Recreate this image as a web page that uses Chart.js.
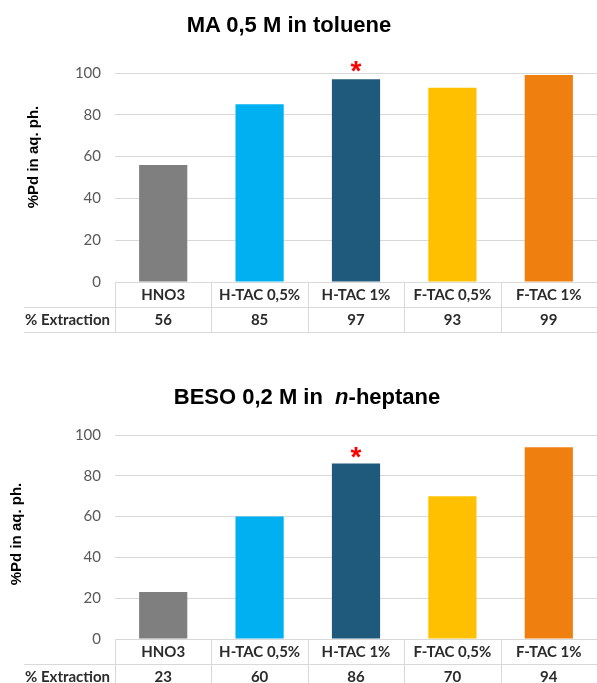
<!DOCTYPE html>
<html>
<head>
<meta charset="utf-8">
<script src="https://cdn.jsdelivr.net/npm/chart.js@4.4.1/dist/chart.umd.min.js"></script>
<style>
  html, body { margin: 0; padding: 0; background: #fff; }
  body { width: 597px; height: 683px; position: relative; overflow: hidden; }
  .box { position: absolute; left: 0; width: 597px; }
  .title {
    position: absolute; white-space: nowrap; transform: translateX(-50%);
    font: bold 22px "Liberation Sans", Arial, sans-serif; color: #000; line-height: 26px;
  }
</style>
</head>
<body>
<div class="box" style="top:0;height:340px"><canvas id="chartMA"></canvas></div>
<div class="box" style="top:340px;height:343px"><canvas id="chartBESO"></canvas></div>
<div class="title" style="left:289px;top:12px">MA 0,5 M in toluene</div>
<div class="title" style="left:307px;top:384px">BESO 0,2 M in&nbsp; <i>n</i>-heptane</div>

<script>
// ---- data ----
const categories = ['HNO3', 'H-TAC 0,5%', 'H-TAC 1%', 'F-TAC 0,5%', 'F-TAC 1%'];
const maValues = [56, 85, 97, 93, 99];
const besoValues = [23, 60, 86, 70, 94];
const yTicks = [0, 20, 40, 60, 80, 100];
const tableLabel = '% Extraction';
const yTitle = '%Pd in aq. ph.';
const starIndex = 2; // H-TAC 1% marked with *

const barColors = ['#7f7f7f', '#00b0f0', '#1f5a7c', '#ffc000', '#ef7f0f'];
const gridColor = '#d9d9d9';
const tableFont = '"Lato", "Open Sans", sans-serif';

// draws the data table under the plot, the red star and the y title
const tablePlugin = {
  id: 'dataTable',
  afterDraw(chart, args, opts) {
    const ctx = chart.ctx;
    const area = chart.chartArea;
    const xs = chart.scales.x;
    const n = categories.length;
    const cw = (area.right - area.left) / n;
    const rowH = 25;
    const top = area.bottom;
    const values = chart.data.datasets[0].data;

    ctx.save();
    // table lines
    ctx.strokeStyle = gridColor;
    ctx.lineWidth = 1;
    ctx.beginPath();
    ctx.moveTo(24, top + rowH + 0.5);
    ctx.lineTo(area.right, top + rowH + 0.5);
    ctx.moveTo(24, top + 2 * rowH + 0.5);
    ctx.lineTo(area.right, top + 2 * rowH + 0.5);
    for (let i = 0; i <= n; i++) {
      const x = Math.round(area.left + i * cw) + 0.5;
      ctx.moveTo(x, top);
      ctx.lineTo(x, top + 2 * rowH);
    }
    ctx.stroke();

    // table text
    ctx.textAlign = 'center';
    ctx.textBaseline = 'middle';
    ctx.fillStyle = '#2b2b2b';
    ctx.font = 'bold 15px ' + tableFont;
    categories.forEach((c, i) => {
      const x = xs.getPixelForValue(i);
      ctx.fillText(c, x, top + rowH / 2 + 1);
      ctx.fillText(String(values[i]), x, top + rowH * 1.5 + 1);
    });
    ctx.textAlign = 'left';
    ctx.fillText(tableLabel, 25, top + rowH * 1.5 + 1);

    // red asterisk above the marked bar
    const bar = chart.getDatasetMeta(0).data[starIndex];
    ctx.fillStyle = '#ff0000';
    ctx.font = 'bold 28px "Liberation Sans", Arial, sans-serif';
    ctx.textAlign = 'center';
    ctx.textBaseline = 'alphabetic';
    const m = ctx.measureText('*');
    const cy = bar.y - opts.starGap;
    ctx.fillText('*', bar.x, cy + (m.actualBoundingBoxAscent - m.actualBoundingBoxDescent) / 2);

    // y axis title
    ctx.translate(opts.titleX, opts.titleY);
    ctx.rotate(-Math.PI / 2);
    ctx.fillStyle = '#000';
    ctx.font = 'bold 15px "Liberation Sans", Arial, sans-serif';
    ctx.textAlign = 'center';
    ctx.textBaseline = 'middle';
    ctx.fillText(yTitle, 0, 0);
    ctx.restore();
  }
};

function makeChart(id, values, pad, titleX, titleY, starGap) {
  return new Chart(document.getElementById(id), {
    type: 'bar',
    data: {
      labels: categories,
      datasets: [{
        data: values,
        backgroundColor: barColors,
        categoryPercentage: 1,
        barPercentage: 0.5
      }]
    },
    options: {
      responsive: true,
      maintainAspectRatio: false,
      animation: false,
      layout: { padding: { top: pad.top, bottom: pad.bottom, left: 0, right: 0 } },
      plugins: {
        legend: { display: false },
        tooltip: { enabled: false },
        dataTable: { titleX: titleX, titleY: titleY, starGap: starGap }
      },
      scales: {
        x: { display: false },
        y: {
          min: 0,
          max: 100,
          afterBuildTicks: s => { s.ticks = yTicks.map(v => ({ value: v })); },
          afterFit: s => { s.width = 115; },
          ticks: {
            padding: 14,
            color: '#595959',
            font: { family: tableFont, size: 15 }
          },
          grid: { color: gridColor, drawTicks: false },
          border: { display: false }
        }
      }
    },
    plugins: [tablePlugin]
  });
}

makeChart('chartMA', maValues, { top: 73, bottom: 58 }, 34, 157, 13);
makeChart('chartBESO', besoValues, { top: 95, bottom: 44 }, 17, 194, 11);
</script>
</body>
</html>
